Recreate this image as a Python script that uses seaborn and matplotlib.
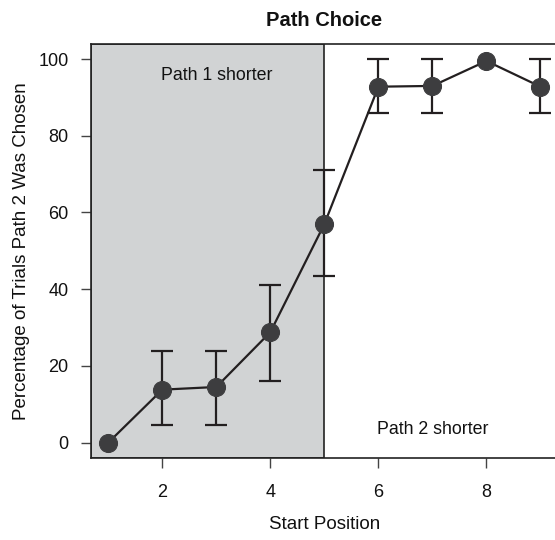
import numpy as np
import pandas as pd
import matplotlib
matplotlib.use('Agg')
import matplotlib.pyplot as plt
import seaborn as sns

start_position = [1, 2, 3, 4, 5, 6, 7, 8, 9]
pct_path2 = [0, 13.8, 14.5, 28.8, 57.0, 92.8, 93.0, 99.5, 92.8]
err_low = [np.nan, 4.6, 4.6, 16.0, 43.5, 86.0, 86.0, np.nan, 86.0]
err_high = [np.nan, 24.0, 24.0, 41.0, 71.0, 100.0, 100.0, np.nan, 100.0]

df = pd.DataFrame({'Start Position': start_position, 'Pct': pct_path2,
                   'Low': err_low, 'High': err_high})

sns.set_style('ticks')
plt.rcParams['font.family'] = ['Liberation Sans', 'DejaVu Sans']
plt.rcParams['text.color'] = '#111111'
plt.rcParams['axes.labelcolor'] = '#111111'

fig = plt.figure(figsize=(5.55, 5.4), dpi=100)
ax = fig.add_axes([0.164, 0.152, 0.841, 0.767])

# shaded region where path 1 is shorter
ax.axvspan(0.68, 5, facecolor='#d1d3d4', edgecolor='#222222', linewidth=1.2, zorder=0)

bars = df.dropna()
ax.errorbar(bars['Start Position'], bars['Pct'],
            yerr=[bars['Pct'] - bars['Low'], bars['High'] - bars['Pct']],
            fmt='none', ecolor='#231f20', elinewidth=1.6, capsize=8, capthick=1.6, zorder=2)

sns.lineplot(data=df, x='Start Position', y='Pct', ax=ax, color='#231f20', linewidth=1.6,
             marker='o', markersize=13, markerfacecolor='#3d3d3f', markeredgecolor='#3d3d3f',
             zorder=3)

ax.text(3.0, 95.8, 'Path 1 shorter', ha='center', va='center', fontsize=12.8)
ax.text(7.0, 3.4, 'Path 2 shorter', ha='center', va='center', fontsize=12.8)

ax.set_xlim(0.68, 9.32)
ax.set_ylim(-4, 104)
ax.set_xticks([2, 4, 6, 8])
ax.set_yticks([0, 20, 40, 60, 80, 100])
ax.tick_params(axis='both', direction='out', length=7.2, width=1, labelsize=13,
               color='#444444', labelcolor='#111111')
ax.tick_params(axis='x', pad=11.5)
ax.tick_params(axis='y', pad=9)

for s in ['left', 'top', 'bottom']:
    ax.spines[s].set_linewidth(1.2)
    ax.spines[s].set_color('#222222')
ax.spines['right'].set_visible(False)

ax.set_xlabel('Start Position', fontsize=13.5, labelpad=11)
ax.set_ylabel('Percentage of Trials Path 2 Was Chosen', fontsize=13.5, labelpad=6)
ax.set_title('Path Choice', fontsize=14.5, fontweight='bold', pad=13)

fig.savefig('out.png', dpi=100)
